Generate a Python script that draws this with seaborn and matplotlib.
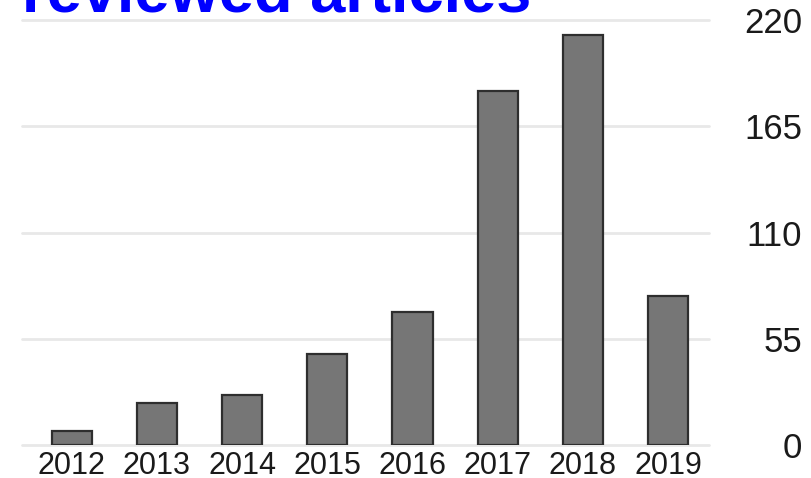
import matplotlib
matplotlib.use("Agg")
import matplotlib.pyplot as plt
import seaborn as sns
import pandas as pd

years = ["2012", "2013", "2014", "2015", "2016", "2017", "2018", "2019"]
articles = [7, 22, 26, 47, 69, 183, 212, 77]
y_ticks = [0, 55, 110, 165, 220]
title_text = "reviewed articles"

sns.set_theme(style="white")
plt.rcParams["font.family"] = ["Liberation Sans", "DejaVu Sans"]

W, H = 811, 478
fig = plt.figure(figsize=(W / 100, H / 100), dpi=100)
ax = fig.add_axes([22 / W, (H - 445) / H, (709 - 22) / W, (445 - 20) / H])

df = pd.DataFrame({"year": years, "n": articles})
sns.barplot(data=df, x="year", y="n", ax=ax, color="#767676", saturation=1,
            edgecolor="#2e2e2e", linewidth=1.6, width=0.47, zorder=3)

ax.set_ylim(0, 220)
ax.set_xlim(-0.583, 7.48)
ax.set_yticks(y_ticks)
ax.set_yticklabels([str(v) for v in y_ticks])
ax.yaxis.tick_right()
ax.tick_params(axis="y", length=0, pad=67, labelsize=25, labelcolor="#1a1a1a")
for lbl in ax.get_yticklabels():
    lbl.set_horizontalalignment("right")
ax.tick_params(axis="x", length=0, pad=4, labelsize=22, labelcolor="#1a1a1a")
ax.set_xlabel("")
ax.set_ylabel("")
ax.grid(axis="y", color="#e8e8e8", linewidth=2, zorder=0)
ax.grid(axis="x", visible=False)
ax.set_axisbelow(True)
for s in ax.spines.values():
    s.set_visible(False)
for gl in ax.get_ygridlines():
    gl.set_clip_on(False)

fig.text(22 / W, 1 - 12 / H, title_text, color="#0000ff", fontsize=45.5,
         fontweight="bold", ha="left", va="baseline")

fig.savefig("out.png", dpi=100, facecolor="white")
